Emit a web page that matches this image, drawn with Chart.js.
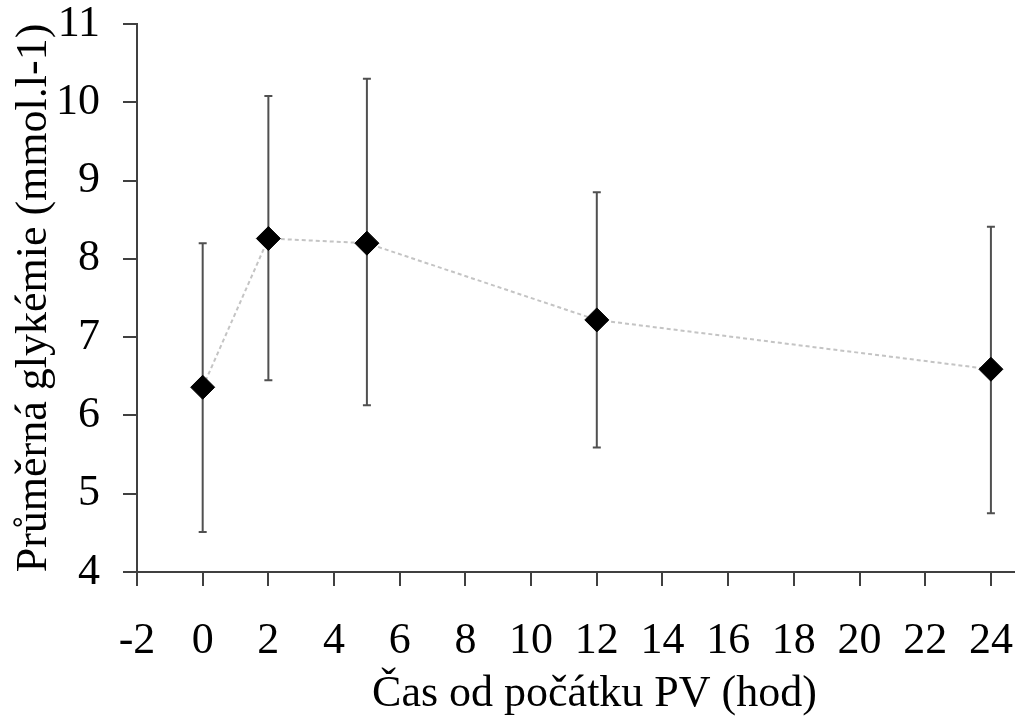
<!DOCTYPE html>
<html>
<head>
<meta charset="utf-8">
<script src="https://cdn.jsdelivr.net/npm/chart.js@4/dist/chart.umd.min.js"></script>
<style>
  html, body { margin: 0; padding: 0; background: #fff; overflow: hidden; }
  #wrap { width: 1015px; height: 722px; overflow: hidden; }
</style>
</head>
<body>
<div id="wrap"><canvas id="chart" width="1065" height="722"></canvas></div>
<script>
// Glykémie po začátku PV - průměr a rozptyl
const hours = [0, 2, 5, 12, 24];
const meanGlyc = [6.36, 8.26, 8.20, 7.22, 6.59];
const lowGlyc = [4.51, 6.45, 6.13, 5.59, 4.75];
const highGlyc = [8.20, 10.08, 10.30, 8.85, 8.41];
const xTicks = [-2, 0, 2, 4, 6, 8, 10, 12, 14, 16, 18, 20, 22, 24];

const FONT = "'Liberation Serif', 'Times New Roman', serif";
const AXIS_COLOR = '#404040';

// error bars drawn under the markers
const errorBars = {
    id: 'errorBars',
    beforeDatasetsDraw(chart) {
        const ctx = chart.ctx;
        const xs = chart.scales.x;
        const ys = chart.scales.y;
        ctx.save();
        ctx.strokeStyle = '#505050';
        ctx.lineWidth = 2;
        hours.forEach((h, i) => {
            const px = xs.getPixelForValue(h);
            const top = ys.getPixelForValue(highGlyc[i]);
            const bot = ys.getPixelForValue(lowGlyc[i]);
            ctx.beginPath();
            ctx.moveTo(px, top);
            ctx.lineTo(px, bot);
            ctx.moveTo(px - 4, top);
            ctx.lineTo(px + 4, top);
            ctx.moveTo(px - 4, bot);
            ctx.lineTo(px + 4, bot);
            ctx.stroke();
        });
        ctx.restore();
    }
};

// keep the plot area fixed, labels may overhang
function noScalePadding(axis) {
    axis.paddingTop = 0;
    axis.paddingBottom = 0;
    axis.paddingLeft = 0;
    axis.paddingRight = 0;
}

new Chart(document.getElementById('chart').getContext('2d'), {
    type: 'scatter',
    data: {
        datasets: [{
            data: hours.map((h, i) => ({ x: h, y: meanGlyc[i] })),
            showLine: true,
            borderColor: '#c4c4c4',
            borderWidth: 2,
            borderDash: [4, 3],
            pointStyle: 'rectRot',
            pointRadius: 12,
            pointBackgroundColor: '#000',
            pointBorderColor: '#000',
            pointBorderWidth: 1
        }]
    },
    options: {
        responsive: false,
        animation: false,
        layout: { padding: { top: 24, right: 0, left: 0, bottom: 0 } },
        plugins: {
            legend: { display: false },
            tooltip: { enabled: false }
        },
        scales: {
            x: {
                type: 'linear',
                min: -2,
                max: 25.86,
                afterBuildTicks: axis => { axis.ticks = xTicks.map(v => ({ value: v })); },
                afterFit: axis => { axis.height = 150; noScalePadding(axis); },
                border: { display: true, color: AXIS_COLOR, width: 2 },
                grid: { drawOnChartArea: false, drawTicks: true, tickLength: 14, color: AXIS_COLOR, lineWidth: 2 },
                ticks: { color: '#000', font: { family: FONT, size: 44 }, padding: 29, maxRotation: 0, autoSkip: false },
                title: {
                    display: true,
                    text: 'Čas od počátku PV (hod)',
                    color: '#000',
                    font: { family: FONT, size: 44 },
                    padding: { top: 0, bottom: 1 }
                }
            },
            y: {
                min: 4,
                max: 11,
                afterFit: axis => { axis.width = 137; noScalePadding(axis); },
                border: { display: true, color: AXIS_COLOR, width: 2 },
                grid: { drawOnChartArea: false, drawTicks: true, tickLength: 14, color: AXIS_COLOR, lineWidth: 2 },
                ticks: { stepSize: 1, color: '#000', font: { family: FONT, size: 44 }, padding: 23 },
                title: {
                    display: true,
                    text: 'Průměrná glykémie (mmol.l-1)',
                    color: '#000',
                    font: { family: FONT, size: 44 },
                    padding: { top: 8, bottom: 0 }
                }
            }
        }
    },
    plugins: [errorBars]
});
</script>
</body>
</html>
